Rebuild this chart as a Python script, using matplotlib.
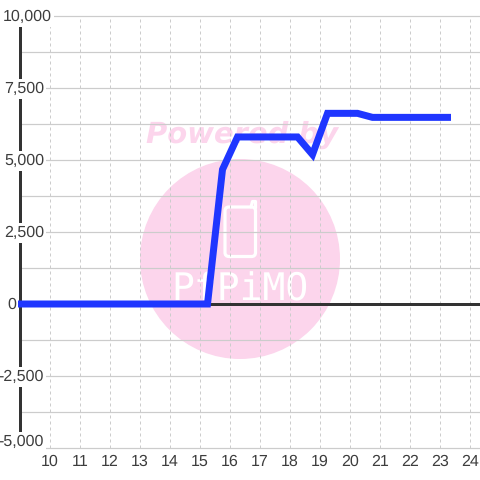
import matplotlib
matplotlib.use('Agg')
import matplotlib.pyplot as plt
from matplotlib.patches import Circle, FancyBboxPatch
from matplotlib.transforms import Affine2D

# Hourly reading, corners of the line only
hours = [9.0, 15.25, 15.75, 16.25, 18.25, 18.75, 19.25, 20.25, 20.75, 23.25]
values = [0, 0, 4670, 5800, 5800, 5190, 6620, 6620, 6480, 6480]

x_ticks = list(range(10, 25))
y_grid = [-5000, -3750, -2500, -1250, 0, 1250, 2500, 3750, 5000, 6250, 7500, 8750, 10000]
y_labels = [-5000, -2500, 0, 2500, 5000, 7500, 10000]

text_col = '#3d3d3d'
grid_col = '#cccccc'
dark = '#333333'
pink = '#fcd5ec'
px = 72 / 100  # one pixel in points

plt.rcParams['font.family'] = ['Liberation Sans', 'DejaVu Sans']
plt.rcParams['text.hinting'] = 'no_hinting'
plt.rcParams['text.hinting_factor'] = 1

fig = plt.figure(figsize=(4.8, 4.8), dpi=100)
ax = fig.add_axes([0, 0, 1, 1])
ax.set_xlim(10 - 50 / 30, 10 + 430 / 30)
ax.set_ylim(-5000 - 32 / 0.0288, 10000 + 16 / 0.0288)
ax.axis('off')

# watermark is placed in picture pixels, y going down
to_px = Affine2D().scale(1, -1).translate(0, 480)
ax.add_artist(Circle((240, 259), 100, transform=to_px, color=pink, lw=0, zorder=0.5))
ax.add_artist(FancyBboxPatch((225, 207), 30.5, 49.5, boxstyle='round,pad=0,rounding_size=4',
                             transform=to_px, fc='none', ec='white', lw=3.2 * px, zorder=0.6))
ax.plot([251, 252.5, 255.5, 255.5], [207, 201.5, 201.5, 208], transform=to_px, color='white',
        lw=3.2 * px, zorder=0.6, solid_capstyle='round')
ax.text(240, 290, 'PfPiMO', transform=to_px, family='DejaVu Sans Mono', fontsize=27.5,
        color='white', ha='center', va='center', zorder=0.6)
ax.text(242, 135, 'Powered by', transform=to_px, family='DejaVu Sans', fontsize=21,
        style='italic', weight='bold', color=pink, ha='center', va='center', zorder=0.6)

# grid
for v in y_grid:
    ax.plot([9.0, ax.get_xlim()[1]], [v, v], color=grid_col, lw=1.2 * px, zorder=1,
            solid_capstyle='butt')
for h in x_ticks:
    ax.plot([h, h], [-5000, 10000], color=grid_col, lw=1 * px, ls=(0, (3, 3)), zorder=1)

# axis lines
ax.plot([9.0, 9.0], [-5000, 10000], color=dark, lw=3 * px, zorder=2, solid_capstyle='butt')
ax.plot([9.0, ax.get_xlim()[1]], [0, 0], color=dark, lw=3 * px, zorder=2, solid_capstyle='butt')

# data line
ax.plot(hours, values, color='#1f36ff', lw=7 * px, zorder=3,
        solid_capstyle='projecting', solid_joinstyle='miter')

# y labels sit over the axis line on a white box
for v in y_labels:
    right, dy = 24, -1
    if v == 10000:
        right = 32
    if v == 0:
        right = -4
    if v == -5000:
        dy = 6
    ax.annotate(f'{v:,}', (9.0, v), xytext=(right, dy), textcoords='offset pixels',
                ha='right', va='center', fontsize=11.5, color=text_col, zorder=4,
                bbox=dict(fc='white', ec='none', pad=1.5))

for h in x_ticks:
    ax.annotate(str(h), (h, -5000), xytext=(0, -14), textcoords='offset pixels',
                ha='center', va='center', fontsize=11.5, color=text_col, zorder=4)

fig.savefig('out.png', dpi=100)
